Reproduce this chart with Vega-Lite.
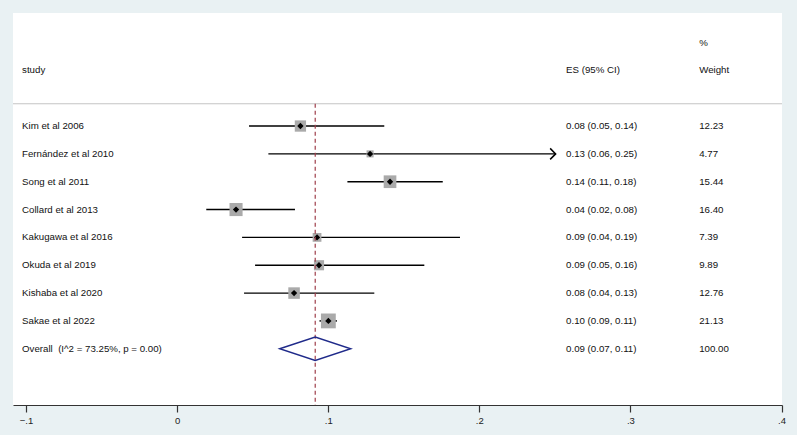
{
  "$schema": "https://vega.github.io/schema/vega-lite/v6.json",
  "width": 769,
  "height": 392,
  "autosize": {"type": "none"},
  "padding": {"left": 13, "top": 13, "right": 15, "bottom": 30},
  "background": "#e9f1f3",
  "config": {
    "view": {"fill": "white", "stroke": null},
    "font": "Liberation Sans",
    "axis": {"grid": false},
    "axisX": {
      "domainColor": "#333333", "domainWidth": 1.2,
      "tickColor": "#333333", "tickSize": 7, "tickWidth": 1.2,
      "labelFontSize": 9.5, "labelColor": "#222222", "labelPadding": 3,
      "labelFont": "Liberation Sans", "labelFlush": false, "labelOverlap": false
    }
  },
  "datasets": {
    "table": [
      {"label": "study", "es_txt": "ES (95% CI)", "w_txt": "Weight", "row": -1, "kind": "header"},
      {"label": "", "es_txt": "", "w_txt": "%", "row": -2, "kind": "header"},
      {"label": "Kim et al 2006", "es": 0.0816, "lo": 0.0476, "hi": 0.1371, "w": 12.23, "es_txt": "0.08 (0.05, 0.14)", "w_txt": "12.23", "row": 1, "kind": "study", "arrow": false},
      {"label": "Fernández et al 2010", "es": 0.1277, "lo": 0.0604, "hi": 0.2505, "w": 4.77, "es_txt": "0.13 (0.06, 0.25)", "w_txt": "4.77", "row": 2, "kind": "study", "arrow": true},
      {"label": "Song et al 2011", "es": 0.1409, "lo": 0.1127, "hi": 0.1758, "w": 15.44, "es_txt": "0.14 (0.11, 0.18)", "w_txt": "15.44", "row": 3, "kind": "study", "arrow": false},
      {"label": "Collard et al 2013", "es": 0.039, "lo": 0.0193, "hi": 0.078, "w": 16.40, "es_txt": "0.04 (0.02, 0.08)", "w_txt": "16.40", "row": 4, "kind": "study", "arrow": false},
      {"label": "Kakugawa et al 2016", "es": 0.0926, "lo": 0.043, "hi": 0.1872, "w": 7.39, "es_txt": "0.09 (0.04, 0.19)", "w_txt": "7.39", "row": 5, "kind": "study", "arrow": false},
      {"label": "Okuda et al 2019", "es": 0.0939, "lo": 0.0516, "hi": 0.1636, "w": 9.89, "es_txt": "0.09 (0.05, 0.16)", "w_txt": "9.89", "row": 6, "kind": "study", "arrow": false},
      {"label": "Kishaba et al 2020", "es": 0.0774, "lo": 0.0443, "hi": 0.1305, "w": 12.76, "es_txt": "0.08 (0.04, 0.13)", "w_txt": "12.76", "row": 7, "kind": "study", "arrow": false},
      {"label": "Sakae et al 2022", "es": 0.1001, "lo": 0.0942, "hi": 0.1058, "w": 21.13, "es_txt": "0.10 (0.09, 0.11)", "w_txt": "21.13", "row": 8, "kind": "study", "arrow": false},
      {"label": "Overall\u00a0 (I^2 = 73.25%, p = 0.00)", "es": 0.0914, "lo": 0.068, "hi": 0.1152, "w": 100.0, "es_txt": "0.09 (0.07, 0.11)", "w_txt": "100.00", "row": 9, "kind": "overall", "arrow": false}
    ]
  },
  "data": {"name": "table"},
  "layer": [
    {
      "data": {"values": [{}]},
      "mark": {"type": "rule", "color": "#c4c4c4", "strokeWidth": 1},
      "encoding": {
        "y": {"datum": 0.2, "type": "quantitative", "scale": {"domain": [-3.06, 11.02], "reverse": true, "nice": false, "zero": false}, "axis": null}
      }
    },
    {
      "transform": [{"filter": "datum.kind == 'study'"}],
      "mark": {"type": "rule", "color": "#000000", "strokeWidth": 1.4},
      "encoding": {
        "x": {
          "field": "lo", "type": "quantitative",
          "scale": {"domain": [-0.1086, 0.4003], "nice": false, "zero": false},
          "axis": {"title": null, "values": [-0.1, 0, 0.1, 0.2, 0.3, 0.4], "labelExpr": "datum.value == 0 ? '0' : replace(format(datum.value, '.1f'), '0.', '.')"}
        },
        "x2": {"field": "hi"},
        "y": {"field": "row", "type": "quantitative", "axis": null}
      }
    },
    {
      "transform": [{"filter": "datum.kind == 'study'"}],
      "mark": {"type": "point", "shape": "square", "filled": true, "color": "#aaaaaa", "opacity": 1},
      "encoding": {
        "x": {"field": "es", "type": "quantitative", "axis": {"title": null, "values": [-0.1, 0, 0.1, 0.2, 0.3, 0.4], "labelExpr": "datum.value == 0 ? '0' : replace(format(datum.value, '.1f'), '0.', '.')"}},
        "y": {"field": "row", "type": "quantitative", "axis": null},
        "size": {"field": "w", "type": "quantitative", "scale": {"domain": [0, 21.13], "range": [0, 220]}, "legend": null}
      }
    },
    {
      "transform": [{"filter": "datum.kind == 'study'"}],
      "mark": {"type": "point", "shape": "diamond", "filled": true, "color": "#000000", "size": 40, "opacity": 1},
      "encoding": {
        "x": {"field": "es", "type": "quantitative", "axis": {"title": null, "values": [-0.1, 0, 0.1, 0.2, 0.3, 0.4], "labelExpr": "datum.value == 0 ? '0' : replace(format(datum.value, '.1f'), '0.', '.')"}},
        "y": {"field": "row", "type": "quantitative", "axis": null}
      }
    },
    {
      "transform": [{"filter": "datum.arrow == true"}],
      "mark": {"type": "point", "shape": "M-1,-1L0,0L-1,1", "filled": false, "stroke": "#000000", "strokeWidth": 1.5, "size": 120, "opacity": 1},
      "encoding": {
        "x": {"field": "hi", "type": "quantitative", "axis": {"title": null, "values": [-0.1, 0, 0.1, 0.2, 0.3, 0.4], "labelExpr": "datum.value == 0 ? '0' : replace(format(datum.value, '.1f'), '0.', '.')"}},
        "y": {"field": "row", "type": "quantitative", "axis": null}
      }
    },
    {
      "transform": [{"filter": "datum.kind == 'overall'"}],
      "mark": {"type": "rule", "color": "#a0404c", "strokeWidth": 1.2, "strokeDash": [4, 3]},
      "encoding": {
        "x": {"field": "es", "type": "quantitative", "axis": {"title": null, "values": [-0.1, 0, 0.1, 0.2, 0.3, 0.4], "labelExpr": "datum.value == 0 ? '0' : replace(format(datum.value, '.1f'), '0.', '.')"}},
        "y": {"datum": 0.2, "type": "quantitative", "axis": null},
        "y2": {"datum": 11.02}
      }
    },
    {
      "transform": [{"filter": "datum.kind == 'overall'"}],
      "mark": {"type": "point", "shape": "M-1,0L0,-0.33L1,0L0,0.33Z", "filled": false, "stroke": "#1f2a8a", "strokeWidth": 1.4, "size": 5041, "opacity": 1},
      "encoding": {
        "x": {"field": "es", "type": "quantitative", "axis": {"title": null, "values": [-0.1, 0, 0.1, 0.2, 0.3, 0.4], "labelExpr": "datum.value == 0 ? '0' : replace(format(datum.value, '.1f'), '0.', '.')"}},
        "y": {"field": "row", "type": "quantitative", "axis": null}
      }
    },
    {
      "mark": {"type": "text", "align": "left", "baseline": "middle", "fontSize": 9.7, "color": "#111111", "font": "Liberation Sans"},
      "encoding": {
        "x": {"datum": -0.1026, "type": "quantitative", "axis": {"title": null, "values": [-0.1, 0, 0.1, 0.2, 0.3, 0.4], "labelExpr": "datum.value == 0 ? '0' : replace(format(datum.value, '.1f'), '0.', '.')"}},
        "y": {"field": "row", "type": "quantitative", "axis": null},
        "text": {"field": "label"}
      }
    },
    {
      "mark": {"type": "text", "align": "left", "baseline": "middle", "fontSize": 9.7, "color": "#111111", "font": "Liberation Sans"},
      "encoding": {
        "x": {"datum": 0.2574, "type": "quantitative", "axis": {"title": null, "values": [-0.1, 0, 0.1, 0.2, 0.3, 0.4], "labelExpr": "datum.value == 0 ? '0' : replace(format(datum.value, '.1f'), '0.', '.')"}},
        "y": {"field": "row", "type": "quantitative", "axis": null},
        "text": {"field": "es_txt"}
      }
    },
    {
      "mark": {"type": "text", "align": "left", "baseline": "middle", "fontSize": 9.7, "color": "#111111", "font": "Liberation Sans"},
      "encoding": {
        "x": {"datum": 0.3455, "type": "quantitative", "axis": {"title": null, "values": [-0.1, 0, 0.1, 0.2, 0.3, 0.4], "labelExpr": "datum.value == 0 ? '0' : replace(format(datum.value, '.1f'), '0.', '.')"}},
        "y": {"field": "row", "type": "quantitative", "axis": null},
        "text": {"field": "w_txt"}
      }
    }
  ]
}
